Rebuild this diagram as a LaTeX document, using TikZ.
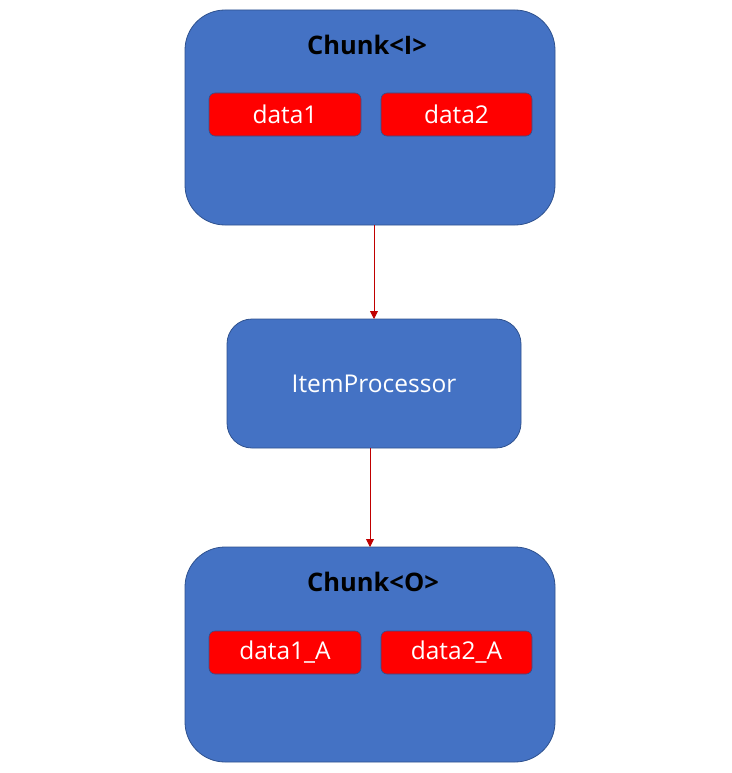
\documentclass[tikz,border=0pt]{standalone}
\usepackage{fontspec}
\setmainfont{Open Sans}
\usetikzlibrary{arrows.meta}
\definecolor{boxblue}{HTML}{4472C4}
\definecolor{boxedge}{HTML}{2F528F}
\definecolor{arrowred}{HTML}{C00000}
\begin{document}
\begin{tikzpicture}[x=1pt,y=-1pt,
  bigbox/.style={draw=boxedge,fill=boxblue,line width=0.8pt,rounded corners=40pt},
  procbox/.style={draw=boxedge,fill=boxblue,line width=0.8pt,rounded corners=25pt},
  databox/.style={draw=boxedge,fill=red,line width=0.6pt,rounded corners=6pt},
  title/.style={font=\fontsize{25.5}{28}\selectfont\bfseries,text=black},
  wlabel/.style={font=\fontsize{24.5}{28}\selectfont,text=white},
  conn/.style={draw=arrowred,line width=0.9pt,-{Triangle[length=8pt,width=8pt]}}]
\useasboundingbox[fill=white] (0,0) rectangle (731,773);
% top chunk
\path[bigbox] (185,10) rectangle (555,225);
\coordinate (topbot) at (374,225);
\node[title] (tI) at (367,45) {Chunk<I>};
\path[databox] (209,93) rectangle (361,136);
\node[wlabel] (d1) at (285,114.5) {data1};
\path[databox] (381,93) rectangle (532,136);
\node[wlabel] (d2) at (456.5,114.5) {data2};
% processor
\path[procbox] (227,319) rectangle (521,448);
\coordinate (proctop) at (374,319);
\coordinate (procbot) at (370,448);
\node[wlabel] (ip) at (374,384) {ItemProcessor};
% bottom chunk
\path[bigbox] (185,547) rectangle (555,762);
\coordinate (bottop) at (370,547);
\node[title] (tO) at (373,582) {Chunk<O>};
\path[databox] (209,631) rectangle (361,674);
\node[wlabel] (d1a) at (285,652.5) {data1\_A};
\path[databox] (381,631) rectangle (532,674);
\node[wlabel] (d2a) at (456.5,652.5) {data2\_A};
% connectors
\draw[conn] (topbot) -- (proctop);
\draw[conn] (procbot) -- (bottop);
\end{tikzpicture}
\end{document}
